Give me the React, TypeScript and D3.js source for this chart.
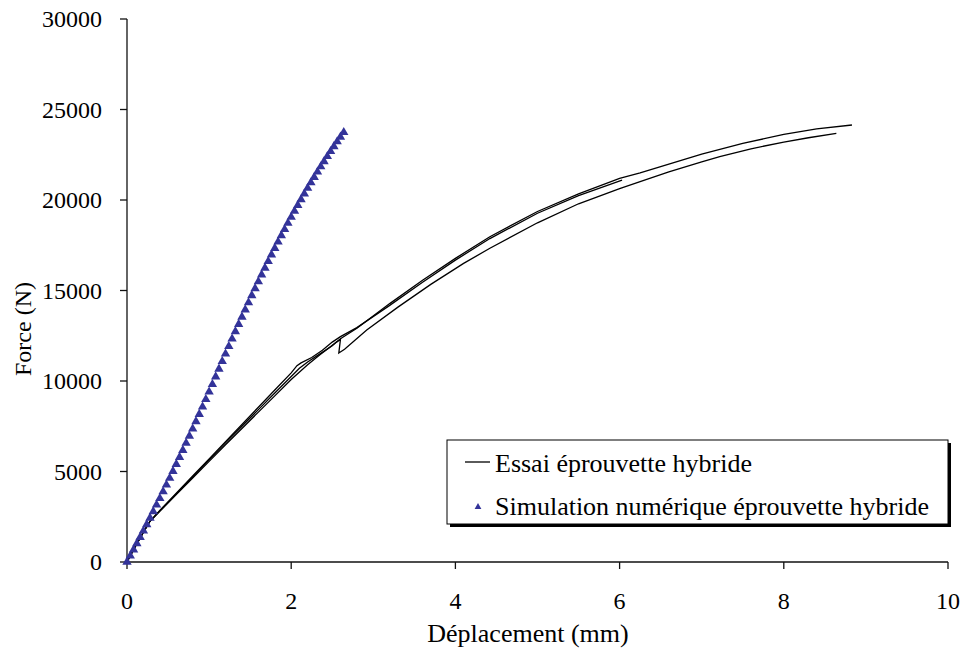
import React from "react";
import * as d3 from "d3";

// Simulation (triangles): displacement (mm) and force (N)
const simX = [0,0.04,0.08,0.12,0.16,0.2,0.24,0.28,0.32,0.36,0.4,0.44,0.48,0.52,0.56,0.6,0.64,0.68,0.72,0.76,0.8,0.84,0.88,0.92,0.96,1.0,1.04,1.08,1.12,1.16,1.2,1.24,1.28,1.32,1.36,1.4,1.44,1.48,1.52,1.56,1.6,1.64,1.68,1.72,1.76,1.8,1.84,1.88,1.92,1.96,2.0,2.04,2.08,2.12,2.16,2.2,2.24,2.28,2.32,2.36,2.4,2.44,2.48,2.52,2.56,2.6,2.64];
const simF = [0,338,678,1022,1370,1720,2074,2430,2790,3154,3520,3890,4262,4638,5018,5400,5786,6174,6566,6962,7360,7762,8166,8574,8986,9400,9818,10238,10662,11082,11500,11914,12326,12734,13138,13540,13938,14334,14725,15113,15495,15873,16245,16613,16977,17335,17689,18037,18381,18721,19055,19385,19709,20029,20344,20655,20960,21260,21555,21846,22131,22411,22687,22958,23223,23484,23740];

// Test curves (black lines)
const testAX = [0,0.1,0.2,0.28,0.4,0.6,0.8,1.0,1.2,1.4,1.6,1.8,2.0,2.07,2.12,2.25,2.38,2.5,2.6,2.8,3.2,3.6,4.0,4.42,5.0,5.5,6.03];
const testAF = [0,850,1650,2250,2850,3800,4750,5700,6650,7600,8550,9500,10450,10850,11000,11300,11700,12150,12450,12950,14180,15460,16680,17870,19270,20240,21100];

const testBX = [0,0.1,0.2,0.28,0.4,0.6,0.8,1.0,1.2,1.4,1.6,1.8,2.0,2.1,2.2,2.35,2.5,2.6,2.8,3.2,3.6,4.0,4.42,5.0,5.5,6.0,6.25,6.5,7.0,7.5,8.0,8.4,8.83];
const testBF = [0,850,1650,2250,2830,3760,4700,5640,6580,7500,8420,9340,10250,10700,11050,11500,11950,12330,12912,14276,15564,16776,17973,19365,20340,21190,21500,21850,22530,23130,23620,23930,24144];

const testCX = [0,0.1,0.2,0.28,0.4,0.6,0.8,1.0,1.2,1.4,1.6,1.8,2.0,2.2,2.35,2.45,2.55,2.6,2.58,2.65,2.92,3.3,3.7,4.1,4.42,5.0,5.5,6.0,6.25,6.6,7.0,7.22,7.6,8.0,8.3,8.64];
const testCF = [0,850,1650,2250,2800,3720,4640,5560,6480,7380,8280,9180,10080,10900,11450,11800,12150,12300,11550,11750,12818,14080,15340,16500,17332,18741,19791,20631,21012,21550,22100,22393,22830,23200,23440,23686];

const xTicks = [0, 2, 4, 6, 8, 10];
const yTicks = [0, 5000, 10000, 15000, 20000, 25000, 30000];

const xTitle = "Déplacement (mm)";
const yTitle = "Force (N)";
const legendLabels = ["Essai éprouvette hybride", "Simulation numérique éprouvette hybride"];

export default function App() {
  const W = 967, H = 657;
  const x = d3.scaleLinear().domain([0, 10]).range([127, 948]);
  const y = d3.scaleLinear().domain([0, 30000]).range([562, 19]);
  const line = d3.line<[number, number]>().x(d => x(d[0])).y(d => y(d[1]));
  const zip = (a: number[], b: number[]) => a.map((v, i) => [v, b[i]] as [number, number]);
  const tri = d3.symbol().type(d3.symbolTriangle).size(38)()!;
  const triSmall = d3.symbol().type(d3.symbolTriangle).size(20)()!;
  const font = "'Liberation Serif', 'Times New Roman', serif";
  const blue = "#333399";
  const axisCol = "#111";

  return (
    <svg width={W} height={H} style={{ position: "absolute", left: 0, top: 0, background: "#fff" }} fontFamily={font}>
      <rect x={0} y={0} width={W} height={H} fill="#fff" />
      {/* axes */}
      <line x1={x(0)} x2={x(0)} y1={y(30000)} y2={y(0)} stroke={axisCol} strokeWidth={1.3} />
      <line x1={x(0)} x2={x(10)} y1={y(0)} y2={y(0)} stroke={axisCol} strokeWidth={1.3} />
      {yTicks.map(t => (
        <g key={"y" + t}>
          <line x1={x(0) - 7} x2={x(0)} y1={y(t)} y2={y(t)} stroke={axisCol} strokeWidth={1.3} />
          <text x={102} y={y(t) + 8} textAnchor="end" fontSize={24} fill="#000">{t}</text>
        </g>
      ))}
      {xTicks.map(t => (
        <g key={"x" + t}>
          <line x1={x(t)} x2={x(t)} y1={y(0)} y2={y(0) + 7} stroke={axisCol} strokeWidth={1.3} />
          <text x={x(t)} y={609} textAnchor="middle" fontSize={24} fill="#000">{t}</text>
        </g>
      ))}
      <text x={528} y={642} textAnchor="middle" fontSize={26} fill="#000">{xTitle}</text>
      <text transform={`translate(31,329) rotate(-90)`} textAnchor="middle" fontSize={24} fill="#000">{yTitle}</text>

      {/* test curves */}
      {[zip(testAX, testAF), zip(testBX, testBF), zip(testCX, testCF)].map((d, i) => (
        <path key={"c" + i} d={line(d)!} fill="none" stroke="#000" strokeWidth={1.3} />
      ))}
      {/* simulation */}
      {simX.map((v, i) => (
        <path key={"s" + i} d={tri} transform={`translate(${x(v)},${y(simF[i])})`} fill={blue} />
      ))}

      {/* legend */}
      <rect x={450} y={443} width={501} height={84} fill="#000" />
      <rect x={447} y={440} width={501} height={84} fill="#fff" stroke="#000" strokeWidth={1} />
      <line x1={465} x2={490} y1={462} y2={462} stroke="#000" strokeWidth={1.3} />
      <text x={495} y={472} fontSize={26} fill="#000">{legendLabels[0]}</text>
      <path d={triSmall} transform="translate(478,507)" fill={blue} />
      <text x={495} y={515} fontSize={26} fill="#000">{legendLabels[1]}</text>
    </svg>
  );
}
